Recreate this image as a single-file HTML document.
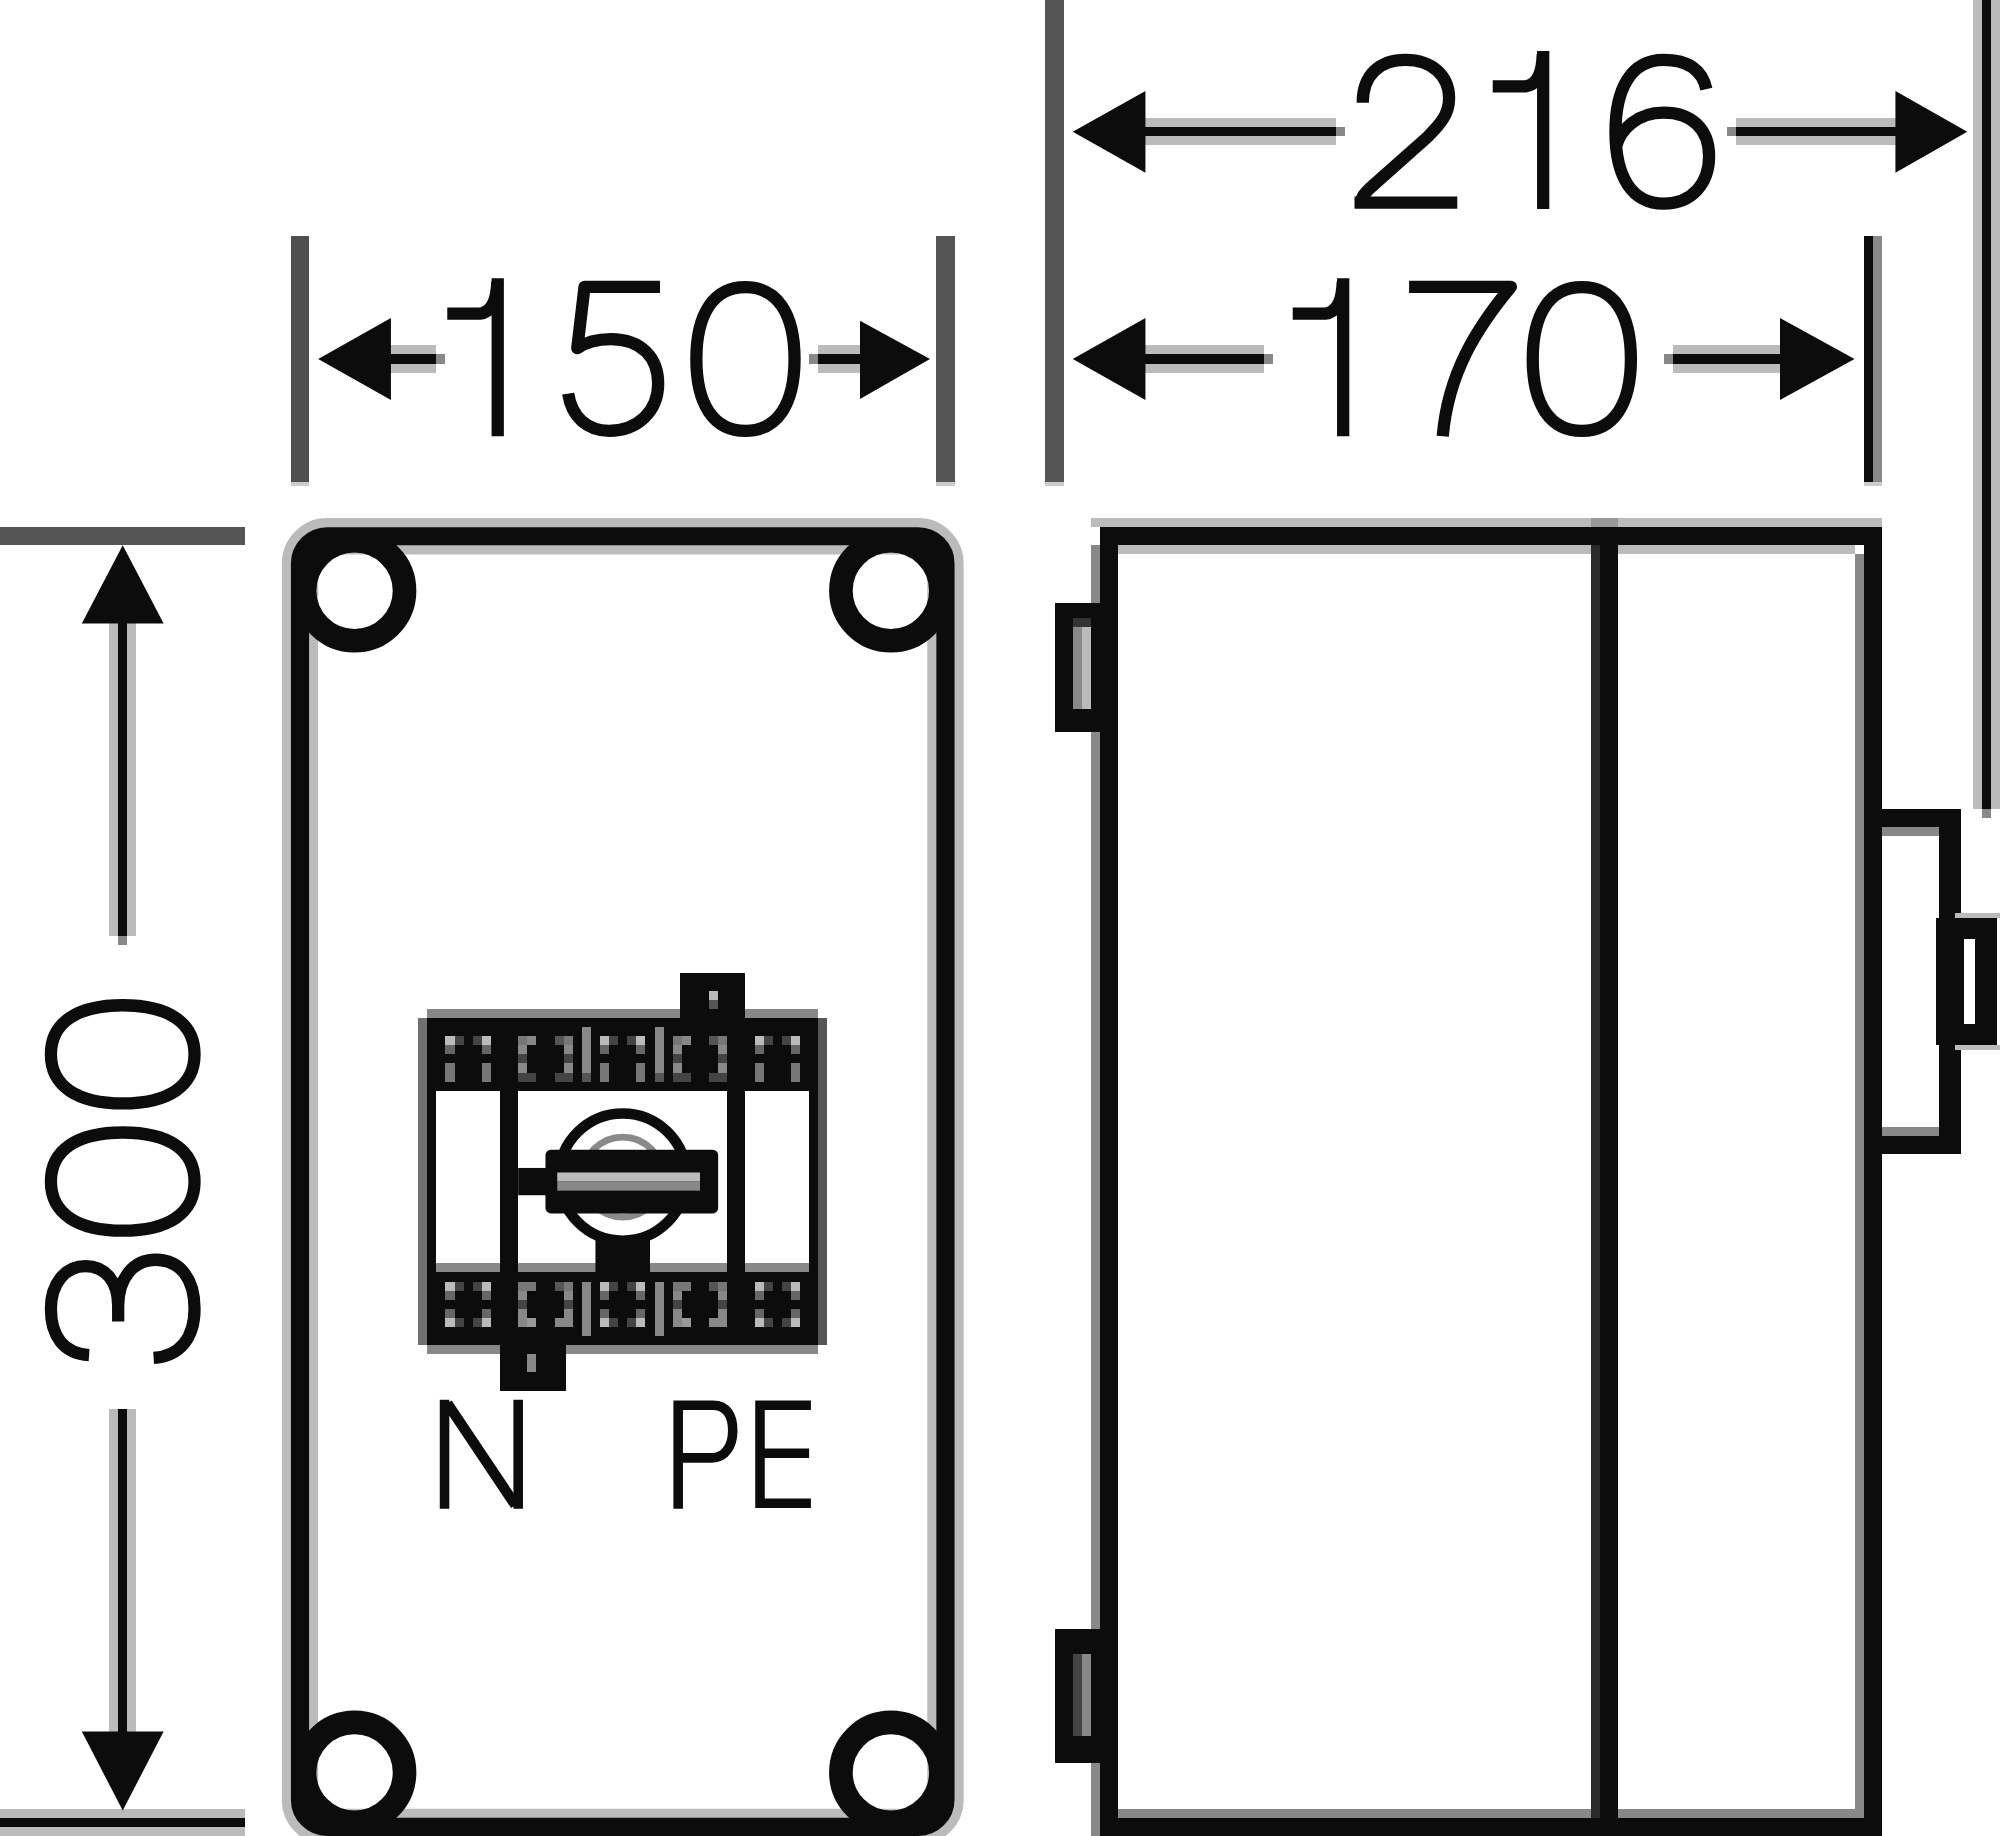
<!DOCTYPE html>
<html><head><meta charset="utf-8">
<style>
html,body{margin:0;padding:0;background:#fff;width:2000px;height:1836px;overflow:hidden;}
svg{display:block;}
</style></head><body>
<svg width="2000" height="1836" viewBox="0 0 220 202" preserveAspectRatio="none">
<rect x="0" y="0" width="220" height="202" fill="#fff"/>
<!-- ============ extension lines ============ -->
<g shape-rendering="crispEdges">
  <!-- 150 ext -->
  <rect x="32" y="26" width="2" height="27" fill="#505050"/>
  <rect x="32" y="53" width="2" height="0.5" fill="#ccc"/>
  <rect x="103" y="26" width="2" height="27" fill="#555"/>
  <rect x="103" y="53" width="2" height="0.5" fill="#ccc"/>
  <!-- 216/170 left ext -->
  <rect x="115" y="0" width="2" height="53" fill="#555"/>
  <rect x="115" y="53" width="2" height="0.5" fill="#ccc"/>
  <!-- 170 right ext -->
  <rect x="205" y="26" width="1" height="27" fill="#0c0c0c"/>
  <rect x="206" y="26" width="1" height="27" fill="#888"/>
  <rect x="205" y="53" width="2" height="0.5" fill="#ccc"/>
  <!-- 216 right ext -->
  <rect x="217" y="0" width="1" height="89" fill="#bbb"/>
  <rect x="218" y="0" width="1" height="89" fill="#0c0c0c"/>
  <rect x="219" y="0" width="1" height="89" fill="#bbb"/>
  <rect x="218" y="89" width="1" height="1" fill="#888"/>
  <!-- 300 ext -->
  <rect x="0" y="58" width="27" height="2" fill="#555"/>
  <rect x="0" y="199" width="27" height="1" fill="#bbb"/>
  <rect x="0" y="200" width="27" height="1" fill="#0c0c0c"/>
  <rect x="0" y="201" width="27" height="1" fill="#bbb"/>
</g>
<!-- ============ dimension shafts ============ -->
<g shape-rendering="crispEdges">
<rect x="125" y="14" width="22" height="1" fill="#0c0c0c"/>
<rect x="125" y="13" width="22" height="1" fill="#bbb"/>
<rect x="125" y="15" width="22" height="1" fill="#bbb"/>
<rect x="147" y="14" width="1" height="1" fill="#888"/>
<rect x="191" y="14" width="18" height="1" fill="#0c0c0c"/>
<rect x="191" y="13" width="18" height="1" fill="#bbb"/>
<rect x="191" y="15" width="18" height="1" fill="#bbb"/>
<rect x="190" y="14" width="1" height="1" fill="#888"/>
<rect x="42" y="39" width="6" height="1" fill="#0c0c0c"/>
<rect x="42" y="38" width="6" height="1" fill="#bbb"/>
<rect x="42" y="40" width="6" height="1" fill="#bbb"/>
<rect x="48" y="39" width="1" height="1" fill="#888"/>
<rect x="90" y="39" width="5" height="1" fill="#0c0c0c"/>
<rect x="90" y="38" width="5" height="1" fill="#bbb"/>
<rect x="90" y="40" width="5" height="1" fill="#bbb"/>
<rect x="89" y="39" width="1" height="1" fill="#888"/>
<rect x="125" y="39" width="14" height="1" fill="#0c0c0c"/>
<rect x="125" y="38" width="14" height="1" fill="#bbb"/>
<rect x="125" y="40" width="14" height="1" fill="#bbb"/>
<rect x="139" y="39" width="1" height="1" fill="#888"/>
<rect x="184" y="39" width="12" height="1" fill="#0c0c0c"/>
<rect x="184" y="38" width="12" height="1" fill="#bbb"/>
<rect x="184" y="40" width="12" height="1" fill="#bbb"/>
<rect x="183" y="39" width="1" height="1" fill="#888"/>
<rect x="13" y="68" width="1" height="35" fill="#0c0c0c"/>
<rect x="12" y="68" width="1" height="35" fill="#bbb"/>
<rect x="14" y="68" width="1" height="35" fill="#bbb"/>
<rect x="13" y="103" width="1" height="1" fill="#888"/>
<rect x="13" y="155" width="1" height="36" fill="#0c0c0c"/>
<rect x="12" y="155" width="1" height="36" fill="#bbb"/>
<rect x="14" y="155" width="1" height="36" fill="#bbb"/>
</g>
<!-- arrowheads -->
<g fill="#0c0c0c">
  <path d="M118,14.5 L126,10 L126,19 Z"/>
  <path d="M216.4,14.5 L208.5,10 L208.5,19 Z"/>
  <path d="M35,39.5 L43,35 L43,44 Z"/>
  <path d="M102.3,39.5 L94.6,35.3 L94.6,43.9 Z"/>
  <path d="M118,39.5 L126,35 L126,44 Z"/>
  <path d="M204,39.5 L195.8,35 L195.8,44 Z"/>
  <path d="M13.5,60 L9,68.6 L18,68.6 Z"/>
  <path d="M13.5,199.2 L9,190.5 L18,190.5 Z"/>
</g>
<!-- ============ digits ============ -->
<g fill="none" stroke="#0c0c0c" stroke-width="1.35" stroke-linecap="butt" stroke-linejoin="round">
  <!-- 216 -->
  <path d="M149.9,11.3 C149.9,8.2 151.8,6.6 154.6,6.6 C157.6,6.6 159.4,8.4 159.4,10.8 C159.4,12.6 158.4,13.7 157,15.1 L150.7,20.7 C150,21.4 149.7,21.8 149.7,22.3"/>
  <path d="M149,22.3 H160.3"/>
  <path d="M164.2,9.5 H167.8 Q169.6,9.3 169.7,6"/>
  <path d="M169.75,5.6 V23"/>
  <path d="M187.7,9.8 C187.2,7.6 185.6,6.6 183,6.6 C179.4,6.6 177.7,9.8 177.7,14.5 C177.7,19.6 179.6,22.4 183,22.4 C186.2,22.4 188,20.1 188,17.2 C188,14.2 186.1,12.4 183,12.4 C180,12.4 178.3,14.3 177.8,16"/>
  <!-- 150 -->
  <path d="M49.2,34.5 H52.8 Q54.6,34.3 54.7,31"/>
  <path d="M54.75,30.6 V48"/>
  <path d="M72.6,31.55 H64.3 L63.5,38.3 C64.5,37.6 65.8,37.3 67.2,37.3 C70.6,37.3 72.4,39.4 72.4,42.2 C72.4,45.3 70.1,47.4 67,47.4 C64.6,47.4 62.9,45.9 62.5,43.3"/>
  <path d="M82,31.6 C85.5,31.6 87.4,34.5 87.4,39.5 C87.4,44.5 85.5,47.4 82,47.4 C78.5,47.4 76.6,44.5 76.6,39.5 C76.6,34.5 78.5,31.6 82,31.6 Z"/>
  <!-- 170 -->
  <path d="M142.2,34.5 H145.8 Q147.6,34.3 147.7,31"/>
  <path d="M147.75,30.6 V48"/>
  <path d="M155,31.55 H166.2 C162.5,36 159.3,41 158.7,48"/>
  <path d="M174,31.6 C177.5,31.6 179.4,34.5 179.4,39.5 C179.4,44.5 177.5,47.4 174,47.4 C170.5,47.4 168.6,44.5 168.6,39.5 C168.6,34.5 170.5,31.6 174,31.6 Z"/>
  <!-- 300 rotated -->
  <g transform="matrix(0,-1,1,0,5,150)">
    <path d="M0.9,4.8 C1.1,2 3,0.6 6,0.6 C8.8,0.6 10.7,2.2 10.7,4.4 C10.7,6.6 9,8 6.3,8 H4.6 M6.3,8 C9.5,8 11.4,9.8 11.4,12.1 C11.4,14.9 9.2,16.4 6,16.4 C2.8,16.4 0.8,14.8 0.6,11.9"/>
    <path d="M20,0.6 C23.5,0.6 25.4,3.5 25.4,8.5 C25.4,13.5 23.5,16.4 20,16.4 C16.5,16.4 14.6,13.5 14.6,8.5 C14.6,3.5 16.5,0.6 20,0.6 Z"/>
    <path d="M34,0.6 C37.5,0.6 39.4,3.5 39.4,8.5 C39.4,13.5 37.5,16.4 34,16.4 C30.5,16.4 28.6,13.5 28.6,8.5 C28.6,3.5 30.5,0.6 34,0.6 Z"/>
  </g>
</g>
<!-- N PE -->
<g fill="none" stroke="#0c0c0c" stroke-width="1.05" stroke-linejoin="miter">
  <path d="M48.9,166 V154"/><path d="M57,166 V154"/><path d="M49.2,154.4 L56.7,165.6" stroke-width="1.15"/>
  <path d="M74.6,166 V154.6 H78.4 C80,154.6 80.6,155.8 80.6,157.4 C80.6,159 79.8,160.4 78.3,160.4 H74.6"/>
  <path d="M89.2,154.6 H83.6 V165.4 H89.2 M83.6,159.9 H89"/>
</g>
<!-- ============ front box ============ -->
<g fill="none" stroke="#0c0c0c">
  <rect x="33" y="59" width="71" height="142" rx="3" ry="3" stroke-width="4" stroke="#bbb"/>
  <rect x="33" y="59" width="71" height="142" rx="3" ry="3" stroke-width="2"/>
  <circle cx="39" cy="65" r="5.5" stroke-width="2.6"/>
  <circle cx="98" cy="65" r="5.5" stroke-width="2.6"/>
  <circle cx="39" cy="195" r="5.5" stroke-width="2.6"/>
  <circle cx="98" cy="195" r="5.5" stroke-width="2.6"/>
</g>
<!-- ============ side view ============ -->
<g fill="#0c0c0c" shape-rendering="crispEdges">
  <!-- borders -->
  <rect x="120" y="57" width="87" height="1" fill="#bbb"/>
  <rect x="123" y="60" width="81" height="1" fill="#bbb"/>
  <rect x="120" y="60" width="1" height="142" fill="#888"/>
  <rect x="204" y="61" width="1" height="139" fill="#888"/>
  <rect x="123" y="199" width="81" height="1" fill="#888"/>
  <rect x="175" y="60" width="1" height="140" fill="#2a2a2a"/>
  <rect x="175" y="57" width="3" height="1" fill="#999"/>
  <rect x="121" y="58" width="86" height="2"/>
  <rect x="121" y="58" width="2" height="144"/>
  <rect x="205" y="58" width="2" height="144"/>
  <rect x="121" y="200" width="86" height="2"/>
  <rect x="176" y="58" width="2" height="144"/>
  <!-- hinge tabs -->
  <rect x="116" y="66.33" width="5" height="14.17"/>
  <rect x="118" y="68" width="2" height="1" fill="#333"/>
  <rect x="118" y="69" width="1" height="9" fill="#888"/>
  <rect x="119" y="69" width="1" height="9" fill="#bbb"/>
  <rect x="116" y="179.2" width="5" height="14.8"/>
  <rect x="118" y="182" width="1" height="9" fill="#444"/>
  <rect x="119" y="182" width="1" height="9" fill="#888"/>
  <!-- latch -->
  <rect x="205" y="89" width="10.67" height="2"/>
  <rect x="205" y="125" width="10.67" height="2"/>
  <rect x="213.33" y="89" width="2.34" height="38"/>
  <rect x="207" y="91" width="6.33" height="1" fill="#888"/>
  <rect x="207" y="124" width="6.33" height="1" fill="#888"/>
  <path d="M213,101 H219.67 V115 H213 Z M216,103.3 V112.7 H217.2 V103.3 Z" fill-rule="evenodd"/>
  <rect x="215" y="100.5" width="5" height="0.5" fill="#bbb"/>
  <rect x="215" y="115" width="5" height="0.5" fill="#bbb"/>
</g>
<!-- ============ switch ============ -->
<g shape-rendering="crispEdges">
  <rect x="47" y="112" width="43" height="36" fill="#0c0c0c"/>
  <rect x="46" y="112" width="1" height="36" fill="#707070"/>
  <rect x="90" y="112" width="1" height="36" fill="#555"/>
  <rect x="47" y="111" width="43" height="1" fill="#888"/>
  <rect x="47" y="148" width="43" height="1" fill="#888"/>
  <rect x="48" y="120" width="7" height="19" fill="#fff"/><rect x="48" y="139" width="7" height="1" fill="#888"/>
  <rect x="57" y="120" width="23" height="19" fill="#fff"/><rect x="57" y="139" width="23" height="1" fill="#888"/>
  <rect x="82" y="120" width="7" height="19" fill="#fff"/><rect x="82" y="139" width="7" height="1" fill="#888"/>
  <!-- top tab -->
  <rect x="74.8" y="107" width="7.2" height="5" fill="#0c0c0c"/>
  <rect x="78" y="109" width="1" height="1" fill="#bbb"/>
  <rect x="78" y="110" width="1" height="1" fill="#555"/>
  <!-- bottom tab -->
  <rect x="55" y="148" width="7.3" height="5" fill="#0c0c0c"/>
  <rect x="58" y="149" width="1" height="2" fill="#888"/>
</g>
<!-- strip patterns -->
<g shape-rendering="crispEdges">
<rect x="49" y="114" width="1" height="1" fill="#bbb"/>
<rect x="49" y="115" width="1" height="1" fill="#666"/>
<rect x="49" y="117" width="1" height="1" fill="#777"/>
<rect x="49" y="118" width="1" height="1" fill="#777"/>
<rect x="50" y="114" width="1" height="1" fill="#444"/>
<rect x="52" y="114" width="1" height="1" fill="#444"/>
<rect x="53" y="114" width="1" height="1" fill="#bbb"/>
<rect x="53" y="115" width="1" height="1" fill="#666"/>
<rect x="53" y="117" width="1" height="1" fill="#777"/>
<rect x="53" y="118" width="1" height="1" fill="#777"/>
<rect x="57" y="114" width="1" height="1" fill="#777"/>
<rect x="57" y="115" width="1" height="1" fill="#888"/>
<rect x="57" y="116" width="1" height="1" fill="#444"/>
<rect x="57" y="117" width="1" height="1" fill="#888"/>
<rect x="57" y="118" width="1" height="1" fill="#444"/>
<rect x="58" y="114" width="1" height="1" fill="#888"/>
<rect x="58" y="118" width="1" height="1" fill="#444"/>
<rect x="61" y="114" width="1" height="1" fill="#555"/>
<rect x="61" y="118" width="1" height="1" fill="#444"/>
<rect x="62" y="114" width="1" height="1" fill="#777"/>
<rect x="62" y="115" width="1" height="1" fill="#888"/>
<rect x="62" y="116" width="1" height="1" fill="#444"/>
<rect x="62" y="117" width="1" height="1" fill="#888"/>
<rect x="62" y="118" width="1" height="1" fill="#444"/>
<rect x="66" y="114" width="1" height="1" fill="#bbb"/>
<rect x="66" y="115" width="1" height="1" fill="#666"/>
<rect x="66" y="117" width="1" height="1" fill="#777"/>
<rect x="66" y="118" width="1" height="1" fill="#777"/>
<rect x="67" y="114" width="1" height="1" fill="#444"/>
<rect x="69" y="114" width="1" height="1" fill="#444"/>
<rect x="70" y="114" width="1" height="1" fill="#bbb"/>
<rect x="70" y="115" width="1" height="1" fill="#666"/>
<rect x="70" y="117" width="1" height="1" fill="#777"/>
<rect x="70" y="118" width="1" height="1" fill="#777"/>
<rect x="74" y="114" width="1" height="1" fill="#777"/>
<rect x="74" y="115" width="1" height="1" fill="#888"/>
<rect x="74" y="116" width="1" height="1" fill="#444"/>
<rect x="74" y="117" width="1" height="1" fill="#888"/>
<rect x="74" y="118" width="1" height="1" fill="#444"/>
<rect x="75" y="114" width="1" height="1" fill="#888"/>
<rect x="75" y="118" width="1" height="1" fill="#444"/>
<rect x="78" y="114" width="1" height="1" fill="#555"/>
<rect x="78" y="118" width="1" height="1" fill="#444"/>
<rect x="79" y="114" width="1" height="1" fill="#777"/>
<rect x="79" y="115" width="1" height="1" fill="#888"/>
<rect x="79" y="116" width="1" height="1" fill="#444"/>
<rect x="79" y="117" width="1" height="1" fill="#888"/>
<rect x="79" y="118" width="1" height="1" fill="#444"/>
<rect x="83" y="114" width="1" height="1" fill="#bbb"/>
<rect x="83" y="115" width="1" height="1" fill="#666"/>
<rect x="83" y="117" width="1" height="1" fill="#777"/>
<rect x="83" y="118" width="1" height="1" fill="#777"/>
<rect x="84" y="114" width="1" height="1" fill="#444"/>
<rect x="86" y="114" width="1" height="1" fill="#444"/>
<rect x="87" y="114" width="1" height="1" fill="#bbb"/>
<rect x="87" y="115" width="1" height="1" fill="#666"/>
<rect x="87" y="117" width="1" height="1" fill="#777"/>
<rect x="87" y="118" width="1" height="1" fill="#777"/>
<rect x="64" y="113" width="1" height="5" fill="#888"/>
<rect x="64" y="118" width="1" height="1" fill="#555"/>
<rect x="72" y="113" width="1" height="5" fill="#888"/>
<rect x="72" y="118" width="1" height="1" fill="#555"/>
<rect x="49" y="141" width="1" height="1" fill="#bbb"/>
<rect x="49" y="142" width="1" height="1" fill="#666"/>
<rect x="49" y="144" width="1" height="1" fill="#666"/>
<rect x="49" y="145" width="1" height="1" fill="#bbb"/>
<rect x="50" y="141" width="1" height="1" fill="#444"/>
<rect x="50" y="145" width="1" height="1" fill="#444"/>
<rect x="52" y="141" width="1" height="1" fill="#444"/>
<rect x="52" y="145" width="1" height="1" fill="#444"/>
<rect x="53" y="141" width="1" height="1" fill="#bbb"/>
<rect x="53" y="142" width="1" height="1" fill="#666"/>
<rect x="53" y="144" width="1" height="1" fill="#666"/>
<rect x="53" y="145" width="1" height="1" fill="#bbb"/>
<rect x="57" y="141" width="1" height="1" fill="#777"/>
<rect x="57" y="142" width="1" height="1" fill="#888"/>
<rect x="57" y="143" width="1" height="1" fill="#444"/>
<rect x="57" y="144" width="1" height="1" fill="#888"/>
<rect x="57" y="145" width="1" height="1" fill="#888"/>
<rect x="58" y="141" width="1" height="1" fill="#777"/>
<rect x="58" y="145" width="1" height="1" fill="#999"/>
<rect x="61" y="141" width="1" height="1" fill="#555"/>
<rect x="61" y="145" width="1" height="1" fill="#888"/>
<rect x="62" y="141" width="1" height="1" fill="#777"/>
<rect x="62" y="142" width="1" height="1" fill="#888"/>
<rect x="62" y="143" width="1" height="1" fill="#444"/>
<rect x="62" y="144" width="1" height="1" fill="#888"/>
<rect x="62" y="145" width="1" height="1" fill="#888"/>
<rect x="66" y="141" width="1" height="1" fill="#bbb"/>
<rect x="66" y="142" width="1" height="1" fill="#666"/>
<rect x="66" y="144" width="1" height="1" fill="#666"/>
<rect x="66" y="145" width="1" height="1" fill="#bbb"/>
<rect x="67" y="141" width="1" height="1" fill="#444"/>
<rect x="67" y="145" width="1" height="1" fill="#444"/>
<rect x="69" y="141" width="1" height="1" fill="#444"/>
<rect x="69" y="145" width="1" height="1" fill="#444"/>
<rect x="70" y="141" width="1" height="1" fill="#bbb"/>
<rect x="70" y="142" width="1" height="1" fill="#666"/>
<rect x="70" y="144" width="1" height="1" fill="#666"/>
<rect x="70" y="145" width="1" height="1" fill="#bbb"/>
<rect x="74" y="141" width="1" height="1" fill="#777"/>
<rect x="74" y="142" width="1" height="1" fill="#888"/>
<rect x="74" y="143" width="1" height="1" fill="#444"/>
<rect x="74" y="144" width="1" height="1" fill="#888"/>
<rect x="74" y="145" width="1" height="1" fill="#888"/>
<rect x="75" y="141" width="1" height="1" fill="#777"/>
<rect x="75" y="145" width="1" height="1" fill="#999"/>
<rect x="78" y="141" width="1" height="1" fill="#555"/>
<rect x="78" y="145" width="1" height="1" fill="#888"/>
<rect x="79" y="141" width="1" height="1" fill="#777"/>
<rect x="79" y="142" width="1" height="1" fill="#888"/>
<rect x="79" y="143" width="1" height="1" fill="#444"/>
<rect x="79" y="144" width="1" height="1" fill="#888"/>
<rect x="79" y="145" width="1" height="1" fill="#888"/>
<rect x="83" y="141" width="1" height="1" fill="#bbb"/>
<rect x="83" y="142" width="1" height="1" fill="#666"/>
<rect x="83" y="144" width="1" height="1" fill="#666"/>
<rect x="83" y="145" width="1" height="1" fill="#bbb"/>
<rect x="84" y="141" width="1" height="1" fill="#444"/>
<rect x="84" y="145" width="1" height="1" fill="#444"/>
<rect x="86" y="141" width="1" height="1" fill="#444"/>
<rect x="86" y="145" width="1" height="1" fill="#444"/>
<rect x="87" y="141" width="1" height="1" fill="#bbb"/>
<rect x="87" y="142" width="1" height="1" fill="#666"/>
<rect x="87" y="144" width="1" height="1" fill="#666"/>
<rect x="87" y="145" width="1" height="1" fill="#bbb"/>
<rect x="64" y="141" width="1" height="6" fill="#888"/>
<rect x="72" y="141" width="1" height="6" fill="#888"/>
</g>
<!-- knob -->
<g>
  <circle cx="68.5" cy="129.5" r="7" fill="none" stroke="#0c0c0c" stroke-width="1.15"/>
  <circle cx="68.5" cy="129.5" r="4.4" fill="none" stroke="#8a8a8a" stroke-width="0.75"/>
  <rect x="60" y="126.5" width="19" height="7" rx="0.6" fill="#0c0c0c"/>
  <rect x="61.3" y="129" width="15.7" height="1" fill="#bbb"/>
  <rect x="61.3" y="130" width="15.7" height="1" fill="#888"/>
  <rect x="57" y="128.5" width="4" height="3" fill="#0c0c0c"/>
  <rect x="65.5" y="136" width="6" height="4" fill="#0c0c0c"/>
</g>
</svg>
</body></html>
